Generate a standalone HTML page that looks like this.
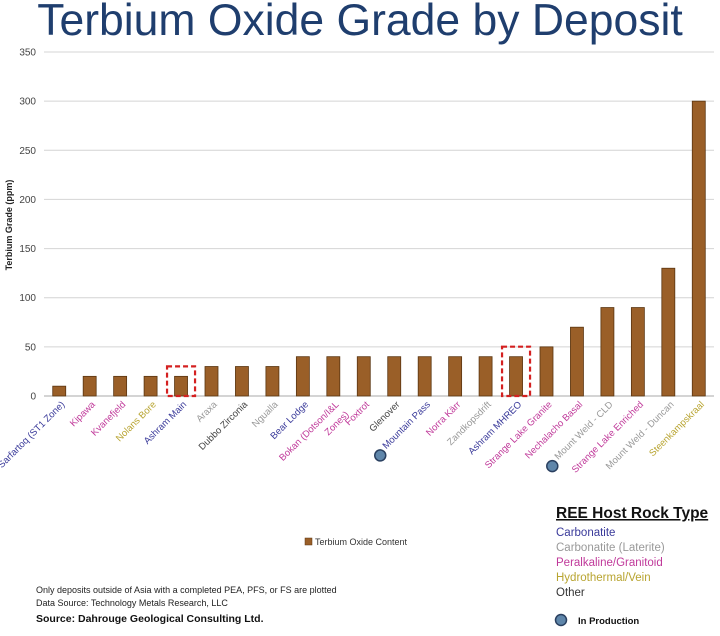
<!DOCTYPE html>
<html><head><meta charset="utf-8"><style>
body{margin:0;background:#fff;width:720px;height:631px;overflow:hidden;font-family:"Liberation Sans",sans-serif}
</style></head><body>
<svg width="720" height="631" xmlns="http://www.w3.org/2000/svg">
<text x="360" y="35" text-anchor="middle" font-size="44.5" fill="#1f3e6e">Terbium Oxide Grade by Deposit</text>
<g id="grid"></g><g id="bars"></g><g id="labels"></g>
<text transform="translate(12,225) rotate(-90)" text-anchor="middle" font-size="9" font-weight="bold" fill="#222">Terbium Grade (ppm)</text>
<rect x="305" y="538" width="7" height="7" fill="#9a5f28" stroke="#5a3510" stroke-width="0.5"/>
<text x="315" y="545" font-size="9" fill="#333">Terbium Oxide Content</text>
<text x="36" y="593" font-size="9" fill="#222">Only deposits outside of Asia with a completed PEA, PFS, or FS are plotted</text>
<text x="36" y="606" font-size="9" fill="#222">Data Source: Technology Metals Research, LLC</text>
<text x="36" y="622" font-size="10.5" font-weight="bold" fill="#111">Source: Dahrouge Geological Consulting Ltd.</text>
<g>
<text x="556" y="518" font-size="15.5" font-weight="bold" fill="#111" text-decoration="underline">REE Host Rock Type</text>
<text x="556" y="536" font-size="11.5" fill="#3a3a9a">Carbonatite</text>
<text x="556" y="551" font-size="11.5" fill="#999">Carbonatite (Laterite)</text>
<text x="556" y="566" font-size="11.5" fill="#c0399a">Peralkaline/Granitoid</text>
<text x="556" y="581" font-size="11.5" fill="#b8a430">Hydrothermal/Vein</text>
<text x="556" y="596" font-size="11.5" fill="#333">Other</text>
<circle cx="561" cy="620" r="5.5" fill="#5f86aa" stroke="#2a4060" stroke-width="1.5"/>
<text x="578" y="624" font-size="9.5" font-weight="bold" fill="#111">In Production</text>
</g>
</svg>
<script>
const names=["Sarfartoq (ST1 Zone)","Kipawa","Kvanefjeld","Nolans Bore","Ashram Main","Araxa","Dubbo Zirconia","Ngualla","Bear Lodge","Bokan (Dotson/I&L Zones)","Foxtrot","Glenover","Mountain Pass","Norra Kärr","Zandkopsdrift","Ashram MHREO","Strange Lake Granite","Nechalacho Basal","Mount Weld - CLD","Strange Lake Enriched","Mount Weld - Duncan","Steenkampskraal"];
const values=[10,20,20,20,20,30,30,30,40,40,40,40,40,40,40,40,50,70,90,90,130,300];
const types=["C","P","P","H","C","L","O","L","C","P","P","O","C","P","L","C","P","P","L","P","L","H"];
const inProd=[12,18];
const boxed=[4,15];
const yTicks=[0,50,100,150,200,250,300,350];
const colors={C:"#3a3a9a",L:"#999",P:"#c0399a",H:"#b8a430",O:"#444"};
const NS="http://www.w3.org/2000/svg";
const x0=44,x1=714,yb=396,yt=52,ymax=350;
const n=names.length,step=(x1-x0)/n;
const y=v=>yb-(v/ymax)*(yb-yt);
const xc=i=>x0+step*(i+0.5);
function mk(t,a,p){const e=document.createElementNS(NS,t);for(const k in a)e.setAttribute(k,a[k]);p.appendChild(e);return e;}
const g=document.getElementById('grid');
yTicks.forEach(t=>{
 const l=mk('line',{x1:x0,x2:x1,y1:y(t),y2:y(t),stroke:t?'#d4d4d4':'#aaa','stroke-width':1},g);
 
 
 const tx=mk('text',{x:x0-8,y:y(t)+3.5,'text-anchor':'end','font-size':10,fill:'#444'},g);
 
 
 tx.textContent=t;
});
const b=document.getElementById('bars'),lb=document.getElementById('labels');
names.forEach((nm,i)=>{
 const cx=xc(i),bw=13;
 const r=mk('rect',{x:cx-bw/2,y:y(values[i]),width:bw,height:yb-y(values[i]),fill:'#9a5f28',stroke:'#5a3510','stroke-width':0.8},b);
 
 
 if(boxed.includes(i)){
  const bx=mk('rect',{x:cx-14,y:y(values[i])-10,width:28,height:yb-y(values[i])+10,fill:'none',stroke:'#d42020','stroke-width':2.2,'stroke-dasharray':'5,3'},b);
  
  
 }
 const parts=nm==="Bokan (Dotson/I&L Zones)"?["Bokan (Dotson/I&L","Zones)"]:[nm];
 let len=0;
 parts.forEach((p,k)=>{
  const t=mk('text',{transform:`translate(${cx+6+k*10},${405+k*10}) rotate(-45)`,'text-anchor':'end','font-size':9.5,fill:colors[types[i]]},lb);
  
  
  t.textContent=p;
  if(k===0)len=t.getComputedTextLength();
 });
 if(inProd.includes(i)){
  const w=len*0.707;
  const c=mk('circle',{cx:cx+6-w-6,cy:405+w+6,r:5.5,fill:'#5f86aa',stroke:'#2a4060','stroke-width':1.5},lb);
  
  
 }
});
</script>
</body></html>
